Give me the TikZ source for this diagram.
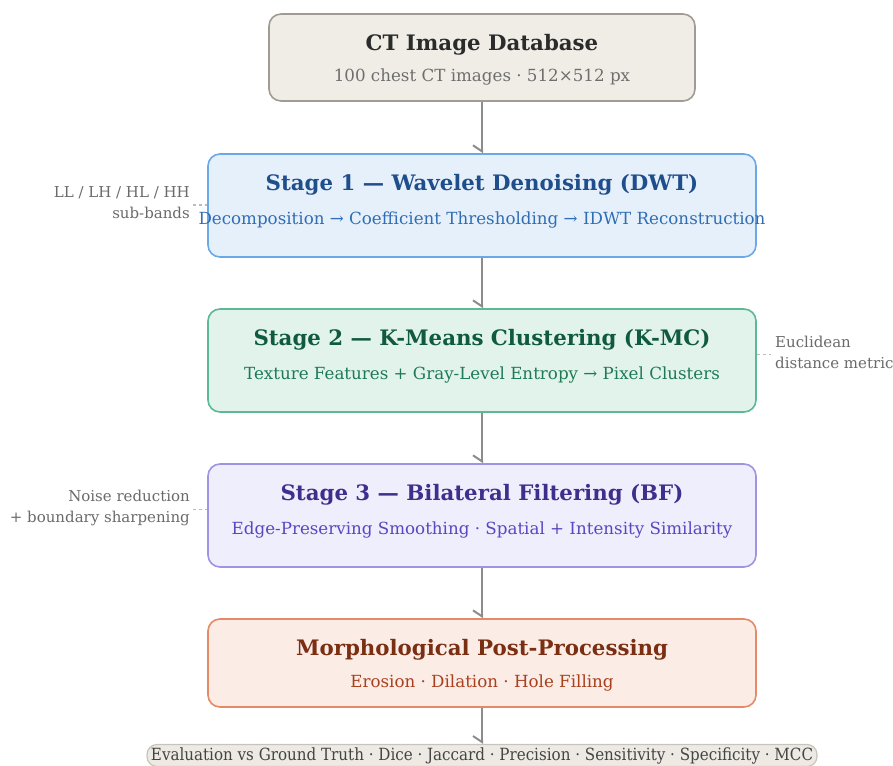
\documentclass[tikz,border=0pt]{standalone}
\usepackage{fontspec}
\setmainfont{DejaVu Serif}
\newfontfamily\condfont{DejaVu Serif Condensed}
\usetikzlibrary{arrows.meta}
\definecolor{dbfill}{HTML}{F0EDE6}
\definecolor{dbdraw}{HTML}{A09C94}
\definecolor{dbtitle}{HTML}{2B2B2B}
\definecolor{dbsub}{HTML}{6E6E6E}
\definecolor{afill}{HTML}{E6F0FB}
\definecolor{adraw}{HTML}{6AA8E8}
\definecolor{atitle}{HTML}{1F4E8C}
\definecolor{asub}{HTML}{2F6DB5}
\definecolor{bfill}{HTML}{E2F3EC}
\definecolor{bdraw}{HTML}{5DB895}
\definecolor{btitle}{HTML}{0F5A40}
\definecolor{bsub}{HTML}{1E7A55}
\definecolor{cfill}{HTML}{EEEEFC}
\definecolor{cdraw}{HTML}{A093E3}
\definecolor{ctitle}{HTML}{3F2E8C}
\definecolor{csub}{HTML}{5B45C0}
\definecolor{mfill}{HTML}{FBECE6}
\definecolor{mdraw}{HTML}{E58A66}
\definecolor{mtitle}{HTML}{7A2E12}
\definecolor{msub}{HTML}{A8401E}
\definecolor{pfill}{HTML}{EDEAE3}
\definecolor{pdraw}{HTML}{C8C4BC}
\definecolor{evtext}{HTML}{444444}
\definecolor{arrowgray}{HTML}{8C8C8C}
\definecolor{anngray}{HTML}{6A6A6A}
\definecolor{dashgray}{HTML}{BBBBBB}
\tikzset{
  stagebox/.style={rounded corners=12pt, line width=1.6pt, minimum width=548pt, minimum height=103pt, inner sep=0pt},
  titletext/.style={font=\fontsize{21.3}{25}\selectfont\bfseries, inner sep=0pt},
  subtext/.style={font=\fontsize{16.7}{20}\selectfont, inner sep=0pt},
  anntext/.style={font=\fontsize{15}{21}\selectfont, text=anngray, inner sep=0pt},
  flow/.style={draw=arrowgray, line width=2pt, -{Straight Barb[right,length=6pt,width=18pt,line width=2pt]}},
  annline/.style={draw=dashgray, line width=1.2pt, dash pattern=on 3pt off 3pt},
}
\begin{document}
\begin{tikzpicture}[x=1pt,y=-1pt]
\useasboundingbox (0,0) rectangle (893,765);

\node[stagebox, fill=dbfill, draw=dbdraw, minimum width=426pt, minimum height=87pt] (db) at (482,57.5) {};
\node[titletext, text=dbtitle] (dbt) at (482,45) {CT Image Database};
\node[subtext, text=dbsub] (dbs) at (482,77) {100 chest CT images · 512×512 px};

\node[stagebox, fill=afill, draw=adraw] (s1) at (482,205.5) {};
\node[titletext, text=atitle] (s1t) at (482,185) {Stage 1 — Wavelet Denoising (DWT)};
\node[subtext, text=asub] (s1s) at (482,220) {Decomposition → Coefficient Thresholding → IDWT Reconstruction};

\node[stagebox, fill=bfill, draw=bdraw] (s2) at (482,360.5) {};
\node[titletext, text=btitle] (s2t) at (482,340) {Stage 2 — K-Means Clustering (K-MC)};
\node[subtext, text=bsub] (s2s) at (482,375) {Texture Features + Gray-Level Entropy → Pixel Clusters};

\node[stagebox, fill=cfill, draw=cdraw] (s3) at (482,515.5) {};
\node[titletext, text=ctitle] (s3t) at (482,495) {Stage 3 — Bilateral Filtering (BF)};
\node[subtext, text=csub] (s3s) at (482,530) {Edge-Preserving Smoothing · Spatial + Intensity Similarity};

\node[stagebox, fill=mfill, draw=mdraw, minimum height=88pt] (mp) at (482,663) {};
\node[titletext, text=mtitle] (mpt) at (482,650) {Morphological Post-Processing};
\node[subtext, text=msub] (mps) at (482,683) {Erosion · Dilation · Hole Filling};

\node[rounded corners=10pt, fill=pfill, draw=pdraw, line width=1.2pt, minimum width=670pt, minimum height=22pt, inner sep=0pt, font=\condfont\fontsize{16.8}{18}\selectfont, text=evtext] (ev) at (482,755.5) {Evaluation vs Ground Truth · Dice · Jaccard · Precision · Sensitivity · Specificity · MCC};

\draw[flow] (db.south) -- (s1.north);
\draw[flow] (s1.south) -- (s2.north);
\draw[flow] (s2.south) -- (s3.north);
\draw[flow] (s3.south) -- (mp.north);
\draw[flow] (mp.south) -- (ev.north);

\node[anntext, align=right, anchor=east] (a1) at (190,203) {LL / LH / HL / HH\\sub-bands};
\node[anntext, align=left, anchor=west] (a2) at (775,352.5) {Euclidean\\distance metric};
\node[anntext, align=right, anchor=east] (a3) at (190,507.5) {Noise reduction\\+ boundary sharpening};

\coordinate (c1) at ([xshift=3pt,yshift=-2pt]a1.east);
\coordinate (c2) at ([xshift=-4pt,yshift=-2pt]a2.west);
\coordinate (c3) at ([xshift=3pt,yshift=-2pt]a3.east);
\draw[annline] (c1) -- (s1.west |- c1);
\draw[annline] (s2.east |- c2) -- (c2);
\draw[annline] (c3) -- (s3.west |- c3);
\end{tikzpicture}
\end{document}
